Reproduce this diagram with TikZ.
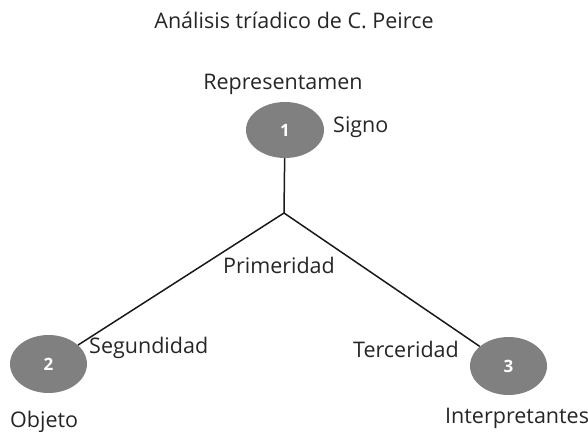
\documentclass[tikz,border=0pt]{standalone}
\usepackage{fontspec}
\setmainfont{Open Sans}
\usetikzlibrary{shapes.geometric}
\begin{document}
\begin{tikzpicture}[x=1pt,y=-1pt,
  blob/.style={ellipse, fill=black!50, draw=none, minimum width=77pt, minimum height=58pt, inner sep=0pt,
    text=white, font=\fontsize{17}{20}\selectfont\bfseries},
  lbl/.style={inner sep=0pt, text=black!85, font=\fontsize{21.5}{25}\selectfont},
  conn/.style={draw=black!90, line width=1.5pt}]
\useasboundingbox (0,0) rectangle (588,431);
\node[lbl, anchor=base] (title) at (294,28.5) {Análisis tríadico de C. Peirce};
\node[lbl, anchor=base] (rep) at (283,89) {Representamen};
\node[blob, minimum width=78pt, minimum height=56pt] (s1) at (285,130) {1};
\node[lbl, anchor=base west] (signo) at (333,132) {Signo};
\coordinate (j) at (284,213);
\node[blob] (s2) at (48.5,364) {2};
\node[blob] (s3) at (508.5,366) {3};
\node[lbl, anchor=base] (prim) at (279,273) {Primeridad};
\node[lbl, anchor=base west] (seg) at (89,353) {Segundidad};
\node[lbl, anchor=base east] (ter) at (459,357) {Terceridad};
\node[lbl, anchor=base west] (obj) at (10,427) {Objeto};
\node[lbl, anchor=base west] (int) at (445,423) {Interpretantes};
\draw[conn] (s1) -- (j);
\draw[conn] (j) -- (s2);
\draw[conn] (j) -- (s3);
\end{tikzpicture}
\end{document}
